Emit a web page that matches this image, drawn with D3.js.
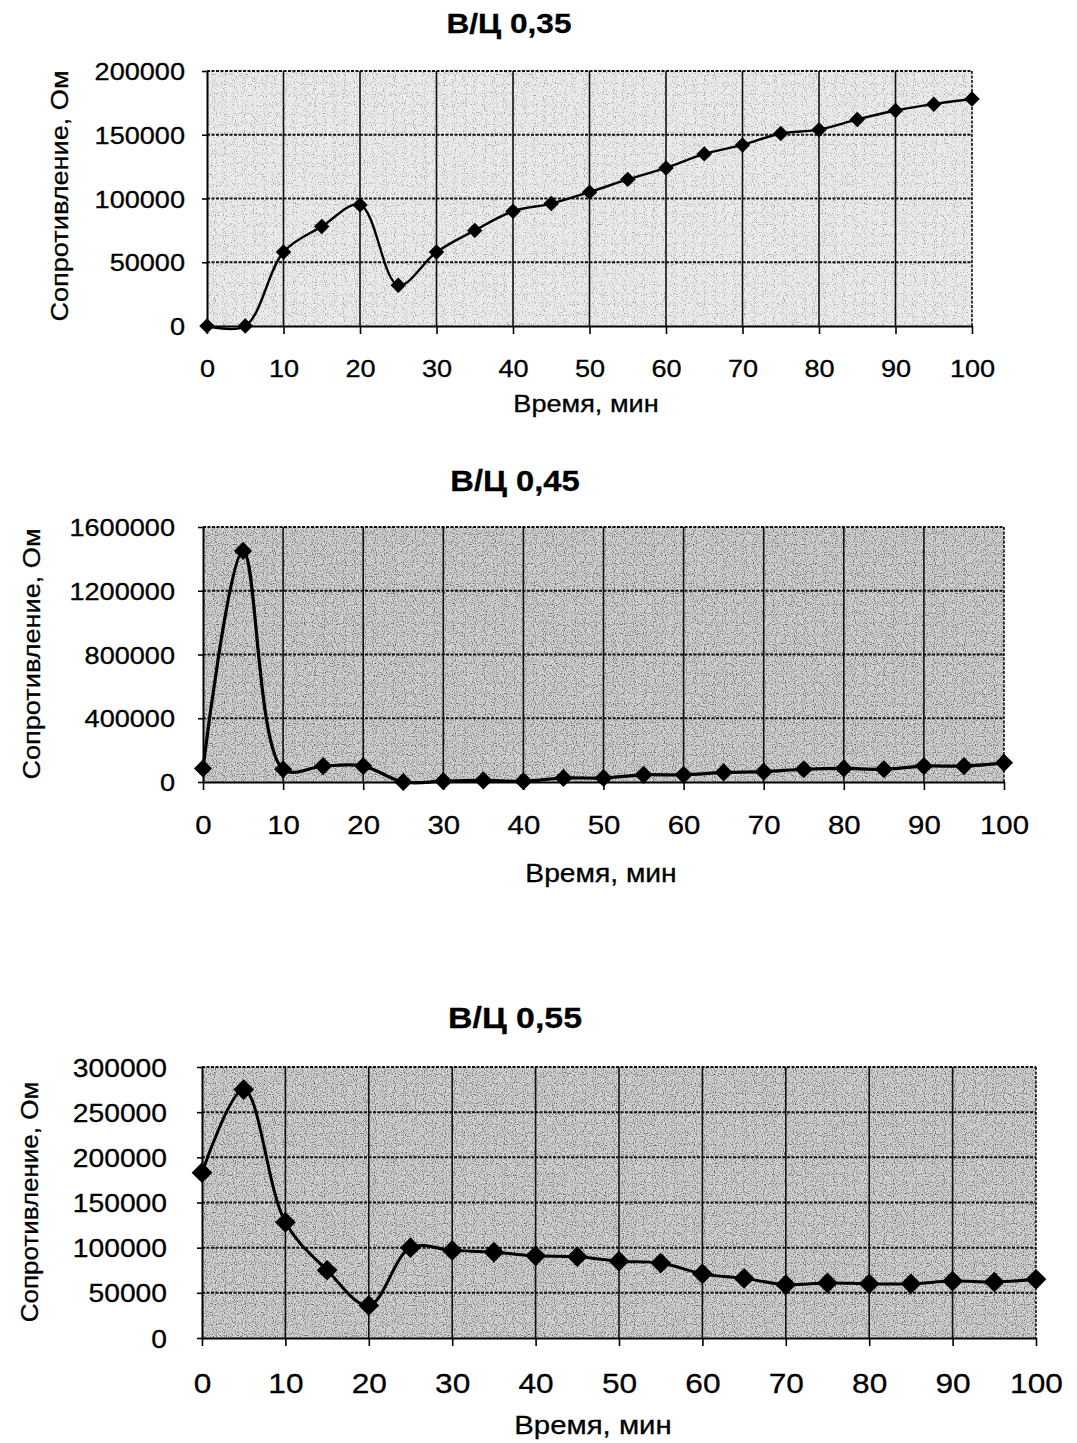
<!DOCTYPE html>
<html>
<head>
<meta charset="utf-8">
<script src="https://cdn.jsdelivr.net/npm/d3@7"></script>
<style>
  body { margin: 0; background: #fff; }
  text { font-family: "Liberation Sans", Arial, sans-serif; fill: #000; stroke: #000; stroke-width: 0.3px; }
</style>
</head>
<body>
<div id="chart"></div>
<script>
// time points, minutes
const minutes = [0, 5, 10, 15, 20, 25, 30, 35, 40, 45, 50, 55, 60, 65, 70, 75, 80, 85, 90, 95, 100];

// resistance, Ohm
const vc035 = [0, 0, 58000, 78000, 95000, 32000, 58000, 75000, 90000, 96000, 105000,
  115000, 124000, 135000, 142000, 151000, 154000, 162000, 169000, 174000, 178000];
const vc045 = [85000, 1450000, 80000, 100000, 100000, 0, 5000, 10000, 5000, 25000, 25000,
  45000, 45000, 60000, 65000, 80000, 85000, 80000, 100000, 100000, 120000];
const vc055 = [183000, 275000, 128000, 75000, 36000, 100000, 97000, 95000, 91000, 90000, 85000,
  83000, 71000, 66000, 59000, 61000, 60000, 60000, 63000, 62000, 65000];

const titles = ["В/Ц 0,35", "В/Ц 0,45", "В/Ц 0,55"];
const xTicks = [0, 10, 20, 30, 40, 50, 60, 70, 80, 90, 100];
const yTicks035 = [0, 50000, 100000, 150000, 200000];
const yTicks045 = [0, 400000, 800000, 1200000, 1600000];
const yTicks055 = [0, 50000, 100000, 150000, 200000, 250000, 300000];
const xTitle = "Время, мин";
const yTitle = "Сопротивление, Ом";

const W = 1077, H = 1443;
const SX = 1.13; // scanned text is a bit wider than Arial

const svg = d3.select("#chart").append("svg")
  .attr("width", W).attr("height", H)
  .style("background", "#fff");

// grain for the grey plot areas: alpha = k*noise + off
const defs = svg.append("defs");
[["grainLight", 1.5, -0.8], ["grainDark", 1.9, -0.9]].forEach(([id, k, off]) => {
  const f = defs.append("filter").attr("id", id)
    .attr("color-interpolation-filters", "sRGB")
    .attr("x", 0).attr("y", 0).attr("width", "100%").attr("height", "100%");
  f.append("feTurbulence").attr("type", "fractalNoise")
    .attr("baseFrequency", 0.9).attr("numOctaves", 1).attr("seed", 4);
  f.append("feColorMatrix").attr("type", "matrix")
    .attr("values", `0 0 0 0 0  0 0 0 0 0  0 0 0 0 0  ${k} 0 0 0 ${off}`);
  f.append("feComposite").attr("in2", "SourceGraphic").attr("operator", "in");
});

const panels = [
  { title: titles[0], values: vc035, yTicks: yTicks035,
    l: 207, r: 972, t: 71, b: 326,
    bg: "#ececec", grain: "grainLight",
    titleX: 509, titleY: 33, titleSize: 28,
    yPad: 22, yTickSize: 24, xLabY: 51, xTickSize: 24,
    xTitleX: 586, xTitleY: 412, xTitleSize: 24,
    yTitleX: 68, yTitleY: 196, yTitleSize: 24,
    lw: 2.4, mk: 120 },
  { title: titles[1], values: vc045, yTicks: yTicks045,
    l: 203, r: 1004, t: 527, b: 782,
    bg: "#d4d4d4", grain: "grainDark",
    titleX: 515, titleY: 491, titleSize: 29,
    yPad: 28, yTickSize: 24, xLabY: 52, xTickSize: 26,
    xTitleX: 601, xTitleY: 882, xTitleSize: 25,
    yTitleX: 40, yTitleY: 654, yTitleSize: 24,
    lw: 3.2, mk: 165 },
  { title: titles[2], values: vc055, yTicks: yTicks055,
    l: 202, r: 1036, t: 1067, b: 1338,
    bg: "#d4d4d4", grain: "grainDark",
    titleX: 515, titleY: 1028, titleSize: 30,
    yPad: 35, yTickSize: 25, xLabY: 55, xTickSize: 28,
    xTitleX: 593, xTitleY: 1434, xTitleSize: 26,
    yTitleX: 38, yTitleY: 1202, yTitleSize: 23,
    lw: 3, mk: 215 }
];

function label(g, str, x, y, size, opts = {}) {
  return g.append("text")
    .attr("transform", `translate(${x},${y})${opts.rot ? " rotate(-90)" : ""} scale(${SX},1)`)
    .attr("text-anchor", "middle")
    .attr("font-size", size)
    .attr("font-weight", opts.bold ? "bold" : null)
    .text(str);
}

function drawPanel(p) {
  const x = d3.scaleLinear([0, 100], [p.l, p.r]);
  const y = d3.scaleLinear([0, d3.max(p.yTicks)], [p.b, p.t]);
  const g = svg.append("g");

  // plot area
  g.append("rect")
    .attr("x", p.l).attr("y", p.t)
    .attr("width", p.r - p.l).attr("height", p.b - p.t)
    .attr("fill", p.bg);
  g.append("rect")
    .attr("x", p.l).attr("y", p.t)
    .attr("width", p.r - p.l).attr("height", p.b - p.t)
    .attr("fill", "#000")
    .attr("filter", `url(#${p.grain})`);

  // gridlines
  g.append("g")
    .selectAll("line")
    .data(p.yTicks.slice(1))
    .join("line")
    .attr("x1", p.l).attr("x2", p.r)
    .attr("y1", d => y(d)).attr("y2", d => y(d))
    .attr("stroke", "#111")
    .attr("stroke-width", 2)
    .attr("stroke-dasharray", "3,1.5");
  g.append("g")
    .selectAll("line")
    .data(xTicks.slice(1))
    .join("line")
    .attr("x1", d => x(d)).attr("x2", d => x(d))
    .attr("y1", p.t).attr("y2", p.b)
    .attr("stroke", "#111")
    .attr("stroke-width", 1.6)
    .attr("stroke-dasharray", d => d === 100 ? "3,1.5" : null);

  // axes
  const xa = g.append("g")
    .attr("transform", `translate(0,${p.b})`)
    .call(d3.axisBottom(x).tickValues(xTicks).tickSize(8).tickSizeOuter(0).tickFormat(d3.format("d")));
  xa.select(".domain").attr("stroke", "#000").attr("stroke-width", 2);
  xa.selectAll(".tick line").attr("stroke", "#000").attr("stroke-width", 1.6);
  xa.selectAll(".tick text")
    .attr("y", p.xLabY).attr("dy", null)
    .attr("font-size", p.xTickSize)
    .attr("transform", `scale(${SX},1)`);

  const ya = g.append("g")
    .attr("transform", `translate(${p.l},0)`)
    .call(d3.axisLeft(y).tickValues(p.yTicks).tickSize(5).tickSizeOuter(0)
      .tickPadding(p.yPad - 5).tickFormat(d3.format("d")));
  ya.select(".domain").attr("stroke", "#000").attr("stroke-width", 2);
  ya.selectAll(".tick line").attr("stroke", "#000").attr("stroke-width", 1.6);
  ya.selectAll(".tick text")
    .attr("font-size", p.yTickSize)
    .attr("dy", "0.36em")
    .attr("transform", `scale(${SX},1)`)
    .attr("x", -p.yPad / SX);
  g.selectAll(".tick text").attr("fill", "#000").attr("font-family", '"Liberation Sans", Arial, sans-serif');

  // series
  const pts = minutes.map((m, i) => [m, p.values[i]]);
  g.append("path")
    .datum(pts)
    .attr("fill", "none")
    .attr("stroke", "#000")
    .attr("stroke-width", p.lw)
    .attr("stroke-linejoin", "round")
    .attr("d", d3.line().x(d => x(d[0])).y(d => y(d[1])).curve(d3.curveCatmullRom));
  g.append("g")
    .selectAll("path")
    .data(pts)
    .join("path")
    .attr("transform", d => `translate(${x(d[0])},${y(d[1])}) rotate(45)`)
    .attr("d", d3.symbol(d3.symbolSquare, p.mk))
    .attr("fill", "#000");

  // titles
  label(g, p.title, p.titleX, p.titleY, p.titleSize, { bold: true });
  label(g, xTitle, p.xTitleX, p.xTitleY, p.xTitleSize);
  label(g, yTitle, p.yTitleX, p.yTitleY, p.yTitleSize, { rot: true });
}

panels.forEach(drawPanel);
</script>
</body>
</html>
